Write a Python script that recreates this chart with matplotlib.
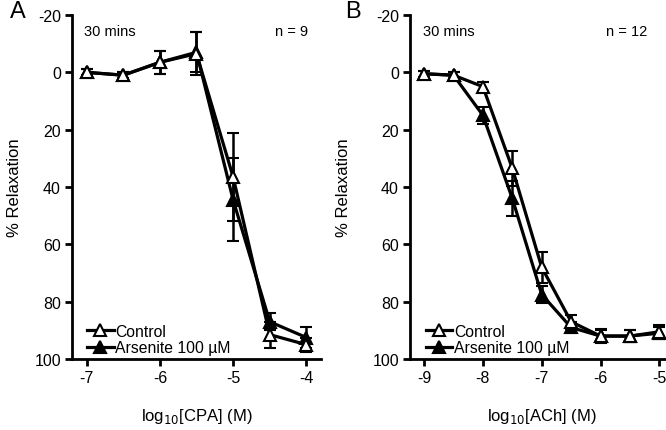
import matplotlib.pyplot as plt

plt.rcParams['font.family'] = ['Liberation Sans', 'DejaVu Sans']

# Panel A: CPA
cpa_x = [-7, -6.5, -6, -5.5, -5, -4.5, -4]
cpa_ctrl = [0, 1, -3.5, -6.5, 36.5, 91.5, 95]
cpa_ctrl_err = [1, 1, 4, 7.5, 15.5, 4.5, 2.5]
cpa_ars = [0, 1, -3.5, -7, 44.5, 87, 92.5]
cpa_ars_err = [1, 1, 4, 7, 14.5, 3, 3.5]

# Panel B: ACh
ach_x = [-9, -8.5, -8, -7.5, -7, -6.5, -6, -5.5, -5]
ach_ctrl = [0.5, 1, 5, 33.5, 68, 87, 92, 92, 90.5]
ach_ctrl_err = [1, 1, 1.5, 6, 5.5, 2.5, 2.5, 2, 2.5]
ach_ars = [0.5, 1, 15, 44, 77.5, 89, 92, 92, 91]
ach_ars_err = [1, 1, 3, 6, 3, 2, 2, 2, 2]

fig = plt.figure(figsize=(6.66, 4.31), dpi=100)
axA = fig.add_axes([72/666, 1 - 360/431, (321 - 72)/666, (360 - 16)/431])
axB = fig.add_axes([410/666, 1 - 360/431, (674 - 410)/666, (360 - 16)/431])


def draw(ax, x, ctrl, ctrl_err, ars, ars_err, xlim, xticks, xlabel, n_text, n_x, ypad):
    ax.errorbar(x, ars, yerr=ars_err, color='black', lw=2.3, marker='^', ms=8,
                mfc='black', mec='black', mew=1.5, capsize=4.5, capthick=2,
                elinewidth=1.8, label='Arsenite 100 \u00b5M', zorder=2)
    ax.errorbar(x, ctrl, yerr=ctrl_err, color='black', lw=2.3, marker='^', ms=8,
                mfc='white', mec='black', mew=1.5, capsize=4.5, capthick=2,
                elinewidth=1.8, label='Control', zorder=3)
    ax.set_xlim(*xlim)
    ax.set_ylim(100, -20)
    ax.set_yticks([-20, 0, 20, 40, 60, 80, 100])
    ax.set_xticks(xticks)
    ax.set_xticklabels([str(t) for t in xticks])
    ax.set_yticklabels(['-20', '0', '20', '40', '60', '80', '100'])
    for s in ['top', 'right']:
        ax.spines[s].set_visible(False)
    for s in ['left', 'bottom']:
        ax.spines[s].set_linewidth(2)
    ax.tick_params(width=2, length=5, labelsize=11.5, pad=3)
    ax.set_ylabel('% Relaxation', fontsize=12, labelpad=ypad)
    ax.set_xlabel(xlabel, fontsize=12, labelpad=15)
    ax.text(0.05, 0.975, '30 mins', transform=ax.transAxes, fontsize=10.5,
            va='top', ha='left')
    ax.text(n_x, 0.975, n_text, transform=ax.transAxes, fontsize=10.5,
            va='top', ha='right')
    h, l = ax.get_legend_handles_labels()
    h = [hh[0] for hh in h]
    ax.legend(h[::-1], l[::-1], loc='lower left', frameon=False, fontsize=11.3,
              handlelength=1.7, handletextpad=0.1, labelspacing=0.1,
              borderaxespad=0.0, bbox_to_anchor=(0.035, -0.008))


draw(axA, cpa_x, cpa_ctrl, cpa_ctrl_err, cpa_ars, cpa_ars_err,
     (-7.2, -3.8), [-7, -6, -5, -4], 'log$_{10}$[CPA] (M)', 'n = 9', 0.95, 9)
draw(axB, ach_x, ach_ctrl, ach_ctrl_err, ach_ars, ach_ars_err,
     (-9.24, -4.75), [-9, -8, -7, -6, -5], 'log$_{10}$[ACh] (M)', 'n = 12', 0.90, 15)

fig.text(10/666, 1 - 12/431, 'A', fontsize=17, ha='left', va='center')
fig.text(345/666, 1 - 12/431, 'B', fontsize=17, ha='left', va='center')

fig.savefig('out.png', dpi=100)
